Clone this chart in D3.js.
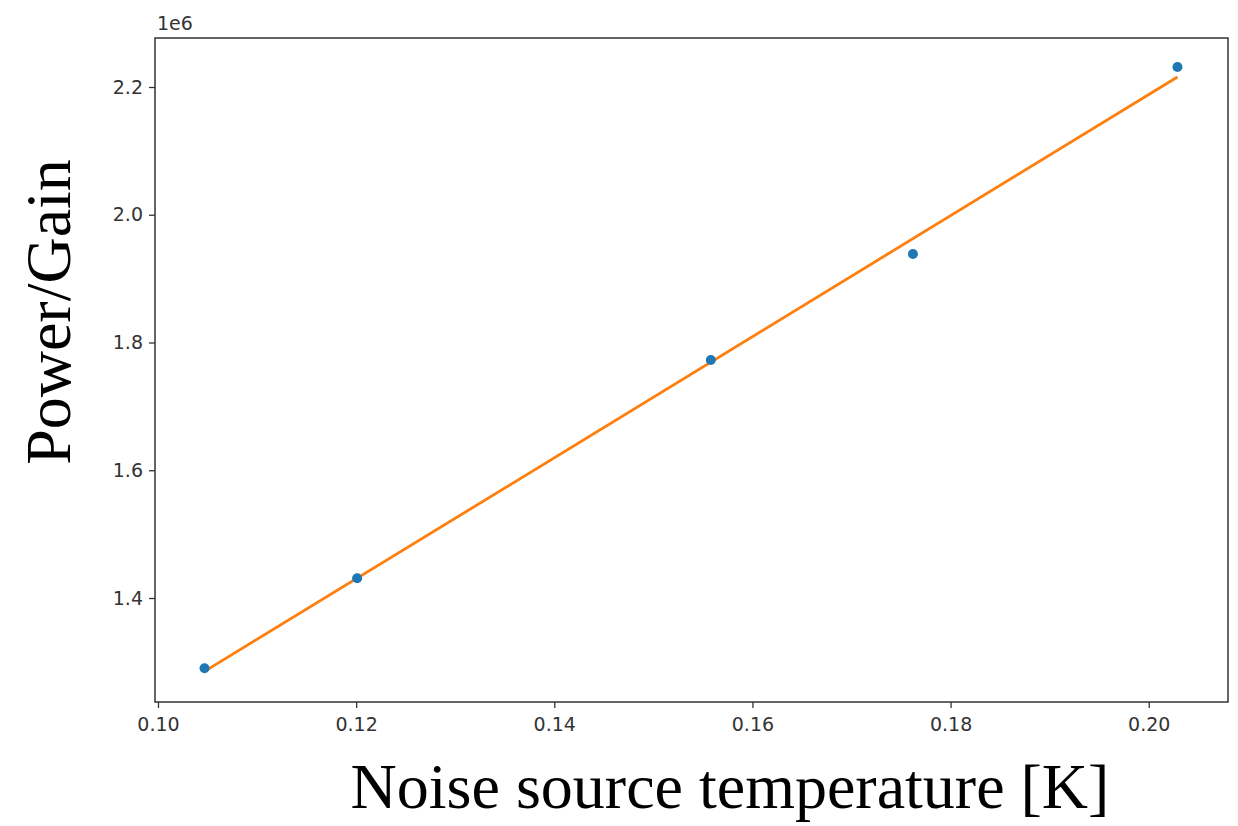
<!DOCTYPE html>
<html>
<head>
<meta charset="utf-8">
<script src="https://cdn.jsdelivr.net/npm/d3@7"></script>
<style>
  body { margin: 0; background: #fff; }
  svg { display: block; }
</style>
</head>
<body>
<div id="chart"></div>
<script>
// measured points (x in K, y in units of 1e6)
var temps = [0.1047, 0.1201, 0.1558, 0.1762, 0.2029];
var powerGain = [1.290, 1.431, 1.7726, 1.9386, 2.2313];
var xTicks = [0.10, 0.12, 0.14, 0.16, 0.18, 0.20];
var yTicks = [1.4, 1.6, 1.8, 2.0, 2.2];

var W = 1238, H = 826;
var frame = {left: 155, right: 1228, top: 38, bottom: 702};

var svg = d3.select('#chart').append('svg')
    .attr('width', W)
    .attr('height', H);

var x = d3.scaleLinear().domain([0.0997, 0.208]).range([frame.left, frame.right]);
var y = d3.scaleLinear().domain([1.2372, 2.2767]).range([frame.bottom, frame.top]);

// least squares fit of the points
var mx = d3.mean(temps), my = d3.mean(powerGain);
var sxy = d3.sum(temps, function(t, i) { return (t - mx) * (powerGain[i] - my); });
var sxx = d3.sum(temps, function(t) { return (t - mx) * (t - mx); });
var slope = sxy / sxx, icpt = my - slope * mx;

var xAxis = d3.axisBottom(x).tickValues(xTicks).tickFormat(d3.format('.2f')).tickSize(6).tickPadding(6);
var yAxis = d3.axisLeft(y).tickValues(yTicks).tickFormat(d3.format('.1f')).tickSize(6).tickPadding(6);

var gx = svg.append('g')
    .attr('transform', 'translate(0,' + frame.bottom + ')')
    .call(xAxis);
var gy = svg.append('g')
    .attr('transform', 'translate(' + frame.left + ',0)')
    .call(yAxis);

[gx, gy].forEach(function(g) {
  g.select('.domain').remove();
  g.selectAll('.tick line').attr('stroke', '#333').attr('stroke-width', 1.3);
  g.selectAll('.tick text')
    .attr('fill', '#333')
    .style('font-family', 'DejaVu Sans')
    .style('font-size', '19px');
});
gx.selectAll('.tick text').attr('dy', '0.9em');

// the fitted line
var line = d3.line()
    .x(function(t) { return x(t); })
    .y(function(t) { return y(icpt + slope * t); });

svg.append('path')
    .datum([temps[0], temps[temps.length - 1]])
    .attr('d', line)
    .attr('fill', 'none')
    .attr('stroke', '#ff7f0e')
    .attr('stroke-width', 2.8);

svg.selectAll('circle.pt')
    .data(temps)
    .enter()
    .append('circle')
    .attr('class', 'pt')
    .attr('cx', function(t) { return x(t); })
    .attr('cy', function(t, i) { return y(powerGain[i]); })
    .attr('r', 5)
    .attr('fill', '#1f77b4');

// draw frame after so it sits on top
svg.append('rect')
    .attr('x', frame.left)
    .attr('y', frame.top)
    .attr('width', frame.right - frame.left)
    .attr('height', frame.bottom - frame.top)
    .attr('fill', 'none')
    .attr('stroke', '#333')
    .attr('stroke-width', 1.5);

svg.append('text')
    .attr('x', frame.left + 2)
    .attr('y', 30)
    .attr('fill', '#333')
    .style('font-family', 'DejaVu Sans')
    .style('font-size', '19px')
    .text('1e6');

svg.append('text')
    .attr('x', 730)
    .attr('y', 808)
    .attr('text-anchor', 'middle')
    .style('font-family', 'Liberation Serif')
    .style('font-size', '64px')
    .text('Noise source temperature [K]');

svg.append('text')
    .attr('transform', 'translate(70,312) rotate(-90)')
    .attr('text-anchor', 'middle')
    .style('font-family', 'Liberation Serif')
    .style('font-size', '64px')
    .text('Power/Gain');
</script>
</body>
</html>
